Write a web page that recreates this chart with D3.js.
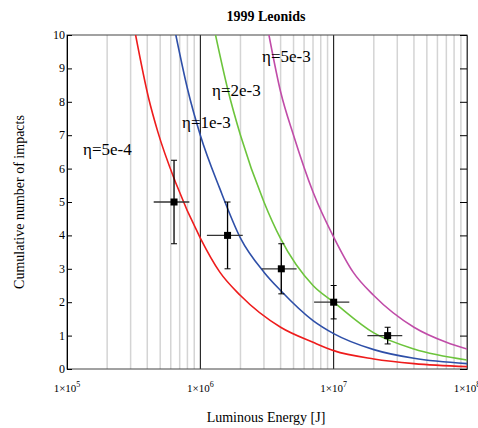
<!DOCTYPE html>
<html>
<head>
<meta charset="utf-8">
<script src="https://cdn.jsdelivr.net/npm/d3@7"></script>
<style>
  body { margin: 0; background: #fff; }
</style>
</head>
<body>
<script>
'use strict';

// curves as [energy J, cumulative number]
const redCurve = [[3.27e5, 10], [4.1e5, 8.1], [4.8e5, 7.1], [6.5e5, 5.6], [1e6, 3.92], [1.4e6, 2.9],
  [2e6, 2.2], [4e6, 1.25], [7e6, 0.8], [1e7, 0.55], [2e7, 0.3], [4e7, 0.16], [1e8, 0.07]];
const blueCurve = [[6.55e5, 10], [8e5, 8.4], [1e6, 7.0], [1.4e6, 5.4], [2e6, 3.92], [3e6, 2.9],
  [4e6, 2.35], [7e6, 1.45], [1e7, 1.06], [2e7, 0.58], [4e7, 0.32], [1e8, 0.16]];
const greenCurve = [[1.3e6, 10], [1.6e6, 8.4], [2e6, 7.0], [3e6, 5.0], [4e6, 3.9], [7e6, 2.5],
  [1e7, 2.0], [2e7, 1.08], [4e7, 0.6], [1e8, 0.27]];
const magentaCurve = [[3.27e6, 10], [4e6, 8.3], [5e6, 7.0], [7e6, 5.3], [1e7, 3.95], [1.4e7, 2.9],
  [2e7, 2.2], [4e7, 1.25], [7e7, 0.8], [1e8, 0.6]];

const curveColors = ["#ee1c1c", "#2e4fa8", "#6cc43c", "#c04ca8"];
const curveLabels = ["η=5e-4", "η=1e-3", "η=2e-3", "η=5e-3"];
const labelPos = [[83, 155], [182, 128], [212, 96], [262, 62]];

// measured points with error bars
const pointE = [6.35e5, 1.6e6, 4.05e6, 1.0e7, 2.54e7];
const pointN = [5, 4, 3, 2, 1];
const eLow = [4.47e5, 1.12e6, 2.88e6, 7.13e6, 1.79e7];
const eHigh = [8.27e5, 2.08e6, 5.27e6, 1.31e7, 3.27e7];
const nLow = [3.75, 3, 2.25, 1.5, 0.75];
const nHigh = [6.25, 5, 3.75, 2.5, 1.25];

const yTicks = [0, 1, 2, 3, 4, 5, 6, 7, 8, 9, 10];
const xDecades = [5, 6, 7, 8];

(function() {

  const serif = '"Liberation Serif", "Times New Roman", Times, "DejaVu Serif", serif';

  const svg = d3.select('body').append('svg')
    .attr('width', 478)
    .attr('height', 428)
    .attr('font-family', serif)
    .style('font-family', serif);

  const pLeft = 67, pRight = 467, pTop = 35, pBottom = 369;

  const x = d3.scaleLog().domain([1e5, 1e8]).range([pLeft, pRight]);
  const y = d3.scaleLinear().domain([0, 10]).range([pBottom, pTop]);

  // minor grid lines
  let minor = [];
  [1e5, 1e6, 1e7].forEach(d => { for (let k = 2; k <= 9; k++) minor.push(d * k); });
  svg.append('g').selectAll('line')
    .data(minor)
    .enter().append('line')
    .attr('x1', d => x(d)).attr('x2', d => x(d))
    .attr('y1', pTop).attr('y2', pBottom)
    .attr('stroke', '#d4d4d4')
    .attr('stroke-width', 1.5);

  // decade lines
  svg.append('g').selectAll('line')
    .data([1e6, 1e7])
    .enter().append('line')
    .attr('x1', d => x(d)).attr('x2', d => x(d))
    .attr('y1', pTop).attr('y2', pBottom)
    .attr('stroke', '#000')
    .attr('stroke-width', 1);

  // frame
  svg.append('rect')
    .attr('x', pLeft).attr('y', pTop)
    .attr('width', pRight - pLeft).attr('height', pBottom - pTop)
    .attr('fill', 'none')
    .attr('stroke', '#444')
    .attr('stroke-width', 1);

  // left and right axes, inward ticks
  const yAxis = d3.axisRight(y).tickValues(yTicks).tickSize(5).tickFormat('');
  svg.append('g').attr('transform', 'translate(' + pLeft + ',0)').call(yAxis)
    .call(g => g.select('.domain').attr('stroke', '#000'));
  const yAxisR = d3.axisLeft(y).tickValues(yTicks).tickSize(7).tickFormat('');
  svg.append('g').attr('transform', 'translate(' + pRight + ',0)').call(yAxisR)
    .call(g => g.select('.domain').attr('stroke', '#444'));

  svg.append('g').selectAll('text')
    .data(yTicks)
    .enter().append('text')
    .attr('x', pLeft - 2)
    .attr('y', d => y(d) + 4)
    .attr('text-anchor', 'end')
    .attr('font-family', serif)
    .style('font-size', '12px')
    .text(d => d);

  // x tick labels 1x10^n
  const xl = svg.append('g').selectAll('text')
    .data(xDecades)
    .enter().append('text')
    .attr('x', d => x(Math.pow(10, d)))
    .attr('y', 392)
    .attr('text-anchor', 'middle')
    .attr('font-family', serif)
    .style('font-size', '11px');
  xl.append('tspan').text('1×10');
  xl.append('tspan').attr('dy', -5).style('font-size', '8px').text(d => d);

  // curves
  svg.append('clipPath').attr('id', 'plotclip')
    .append('rect').attr('x', pLeft).attr('y', pTop)
    .attr('width', pRight - pLeft).attr('height', pBottom - pTop);

  const line = d3.line()
    .x(d => x(d[0]))
    .y(d => y(d[1]))
    .curve(d3.curveMonotoneX);

  [redCurve, blueCurve, greenCurve, magentaCurve].forEach((c, i) => {
    svg.append('path')
      .attr('d', line(c))
      .attr('clip-path', 'url(#plotclip)')
      .attr('fill', 'none')
      .attr('stroke', curveColors[i])
      .attr('stroke-width', 1.6);
  });

  // curve labels
  curveLabels.forEach((t, i) => {
    svg.append('text')
      .attr('x', labelPos[i][0])
      .attr('y', labelPos[i][1])
      .attr('font-family', serif)
      .style('font-size', '17px')
      .text(t);
  });

  // error bars
  const pts = d3.range(pointE.length);
  svg.append('g').selectAll('line')
    .data(pts)
    .enter().append('line')
    .attr('x1', i => x(eLow[i])).attr('x2', i => x(eHigh[i]))
    .attr('y1', i => y(pointN[i])).attr('y2', i => y(pointN[i]))
    .attr('stroke', '#333')
    .attr('stroke-width', 1.3);

  const vb = svg.append('g').selectAll('g')
    .data(pts)
    .enter().append('g');
  vb.append('line')
    .attr('x1', i => x(pointE[i])).attr('x2', i => x(pointE[i]))
    .attr('y1', i => y(nLow[i])).attr('y2', i => y(nHigh[i]))
    .attr('stroke', '#000').attr('stroke-width', 1.3);
  vb.append('line')
    .attr('x1', i => x(pointE[i]) - 3).attr('x2', i => x(pointE[i]) + 3)
    .attr('y1', i => y(nLow[i])).attr('y2', i => y(nLow[i]))
    .attr('stroke', '#000').attr('stroke-width', 1);
  vb.append('line')
    .attr('x1', i => x(pointE[i]) - 3).attr('x2', i => x(pointE[i]) + 3)
    .attr('y1', i => y(nHigh[i])).attr('y2', i => y(nHigh[i]))
    .attr('stroke', '#000').attr('stroke-width', 1);
  vb.append('rect')
    .attr('x', i => x(pointE[i]) - 3.5)
    .attr('y', i => y(pointN[i]) - 3.5)
    .attr('width', 7).attr('height', 7)
    .attr('fill', '#000');

  // titles
  svg.append('text')
    .attr('x', 266).attr('y', 21)
    .attr('text-anchor', 'middle')
    .style('font-size', '14px')
    .style('font-weight', 'bold')
    .text('1999 Leonids');

  svg.append('text')
    .attr('x', 266).attr('y', 422)
    .attr('text-anchor', 'middle')
    .style('font-size', '14px')
    .text('Luminous Energy [J]');

  svg.append('text')
    .attr('transform', 'translate(24, 202)rotate(-90)')
    .attr('text-anchor', 'middle')
    .style('font-size', '14px')
    .text('Cumulative number of impacts');

})();
</script>
</body>
</html>
